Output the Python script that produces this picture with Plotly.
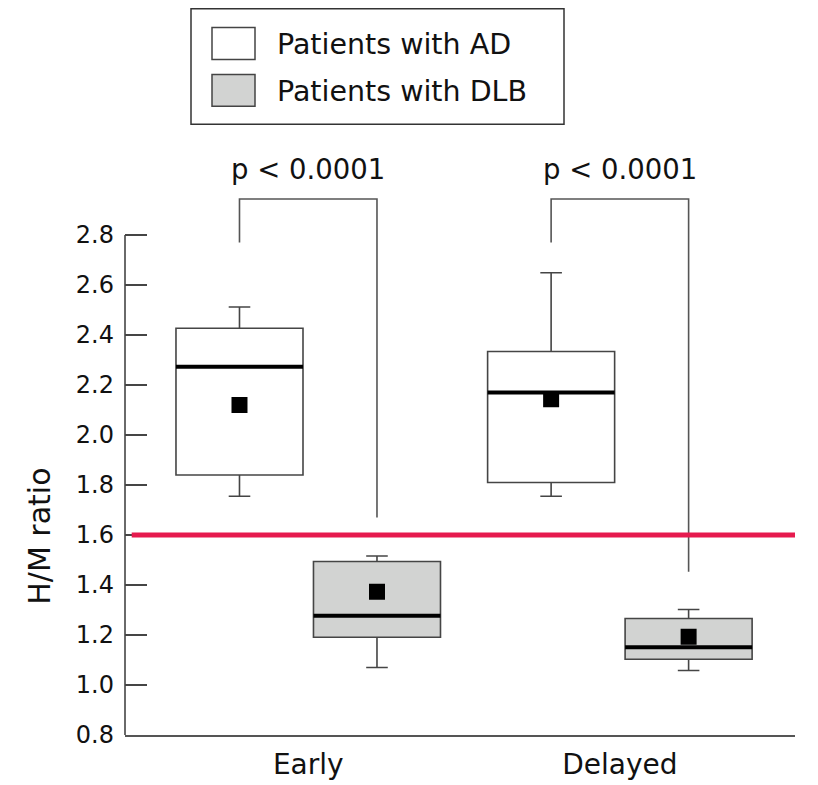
import plotly.graph_objects as go

# ---- data ----
categories = ["Early", "Delayed"]
groups = ["Patients with AD", "Patients with DLB"]

ad_low = [1.755, 1.755]
ad_q1 = [1.84, 1.81]
ad_median = [2.273, 2.17]
ad_q3 = [2.427, 2.334]
ad_high = [2.512, 2.649]
ad_mean = [2.12, 2.143]

dlb_low = [1.07, 1.058]
dlb_q1 = [1.191, 1.103]
dlb_median = [1.277, 1.151]
dlb_q3 = [1.494, 1.266]
dlb_high = [1.516, 1.302]
dlb_mean = [1.373, 1.193]

threshold = 1.6
p_labels = ["p < 0.0001", "p < 0.0001"]
bracket_ad_end = [2.77, 2.77]
bracket_dlb_end = [1.67, 1.453]
bracket_top = [2.944, 2.944]

y_ticks = [0.8, 1.0, 1.2, 1.4, 1.6, 1.8, 2.0, 2.2, 2.4, 2.6, 2.8]
y_ticktext = ["0.8", "1.0", "1.2", "1.4", "1.6", "1.8", "2.0", "2.2", "2.4", "2.6", "2.8"]

# ---- style / layout ----
W, H = 818, 785
PAGE = 8  # default page body margin in the browser
ML, MR, MT, MB = 125 - PAGE, 23 + PAGE, 185 - PAGE, 48 + PAGE
YR = [0.8, 3.0]
XR = [-0.588, 1.562]
OFFSET = 0.2206
BOXW = 0.4076
FONT = "DejaVu Sans"
EDGE = "#454545"

fig = go.Figure()

xs = list(range(len(categories)))
ad_x = [i - OFFSET for i in xs]
dlb_x = [i + OFFSET for i in xs]


def add_group(xpos, q1, med, q3, lo, hi, mean, fill, name):
    fig.add_trace(go.Box(
        x=xpos, q1=q1, median=med, q3=q3, lowerfence=lo, upperfence=hi,
        width=BOXW, fillcolor=fill, line=dict(color=EDGE, width=1.6),
        whiskerwidth=0.17, boxpoints=False, name=name, showlegend=False,
        hoverinfo="skip",
    ))
    # thick median lines
    mx, my = [], []
    for x, m in zip(xpos, med):
        mx += [x - BOXW / 2, x + BOXW / 2, None]
        my += [m, m, None]
    fig.add_trace(go.Scatter(x=mx, y=my, mode="lines",
                             line=dict(color="black", width=4),
                             showlegend=False, hoverinfo="skip"))
    fig.add_trace(go.Scatter(x=xpos, y=mean, mode="markers",
                             marker=dict(symbol="square", size=16, color="black"),
                             showlegend=False, hoverinfo="skip"))


add_group(ad_x, ad_q1, ad_median, ad_q3, ad_low, ad_high, ad_mean, "white", groups[0])
add_group(dlb_x, dlb_q1, dlb_median, dlb_q3, dlb_low, dlb_high, dlb_mean, "#d2d3d2", groups[1])

# brackets
bx, by = [], []
for a, d, ya, yd, yt in zip(ad_x, dlb_x, bracket_ad_end, bracket_dlb_end, bracket_top):
    bx += [a, a, d, d, None]
    by += [ya, yt, yt, yd, None]
fig.add_trace(go.Scatter(x=bx, y=by, mode="lines",
                         line=dict(color="#555555", width=1.6),
                         showlegend=False, hoverinfo="skip"))

plot_h = H - MT - MB


def val_to_paper(v):
    return (v - YR[0]) / (YR[1] - YR[0])


def px_x(px):
    # px measured in screenshot coordinates
    return (px - PAGE - ML) / (W - ML - MR)


def px_y(py):
    return (H - MB - (py - PAGE)) / plot_h


shapes = []
# left spine from 0.8 to 2.8
shapes.append(dict(type="line", xref="paper", yref="y", x0=0, x1=0,
                   y0=y_ticks[0], y1=y_ticks[-1], line=dict(color=EDGE, width=1.6)))
# threshold line
shapes.append(dict(type="line", xref="paper", yref="y", x0=0.01, x1=1,
                   y0=threshold, y1=threshold, line=dict(color="#E61A4E", width=5)))
# legend
shapes.append(dict(type="rect", xref="paper", yref="paper",
                   x0=px_x(191), x1=px_x(564), y0=px_y(124), y1=px_y(8),
                   line=dict(color="#333333", width=1.5), fillcolor="white"))
shapes.append(dict(type="rect", xref="paper", yref="paper",
                   x0=px_x(212), x1=px_x(255), y0=px_y(59), y1=px_y(27),
                   line=dict(color="#444444", width=1.5), fillcolor="white"))
shapes.append(dict(type="rect", xref="paper", yref="paper",
                   x0=px_x(212), x1=px_x(255), y0=px_y(106), y1=px_y(74),
                   line=dict(color="#444444", width=1.5), fillcolor="#d2d3d2"))

annotations = []
for lbl, py in zip(groups, [44, 91]):
    annotations.append(dict(text=lbl, xref="paper", yref="paper", x=px_x(275), y=px_y(py),
                            xanchor="left", yanchor="middle", showarrow=False,
                            font=dict(family=FONT, size=28.5, color="#111111")))
for i, lbl in enumerate(p_labels):
    annotations.append(dict(text=lbl, xref="x", yref="paper", x=(ad_x[i] + dlb_x[i]) / 2,
                            y=val_to_paper(bracket_top[i]) + 0.055,
                            xanchor="center", yanchor="middle", showarrow=False,
                            font=dict(family=FONT, size=27.5, color="#111111")))
annotations.append(dict(text="H/M ratio", xref="paper", yref="paper", x=px_x(40), y=px_y(538),
                        xanchor="center", yanchor="middle", showarrow=False, textangle=-90,
                        font=dict(family=FONT, size=30, color="#111111")))

fig.update_layout(
    width=W, height=H,
    margin=dict(l=ML, r=MR, t=MT, b=MB),
    plot_bgcolor="white", paper_bgcolor="white",
    shapes=shapes, annotations=annotations,
    showlegend=False,
    xaxis=dict(range=XR, tickvals=xs, ticktext=categories, showline=True,
               linecolor="#555555", linewidth=2, showgrid=False, zeroline=False,
               ticks="", tickfont=dict(family=FONT, size=28, color="#111111"),
               ticklabelstandoff=3),
    yaxis=dict(range=YR, tickvals=y_ticks, ticktext=y_ticktext, showline=False,
               showgrid=False, zeroline=False, ticks="inside", ticklen=22,
               tickwidth=1.5, tickcolor=EDGE,
               tickfont=dict(family=FONT, size=24, color="#111111"),
               ticklabelstandoff=10),
)

fig.write_html("out.html")
